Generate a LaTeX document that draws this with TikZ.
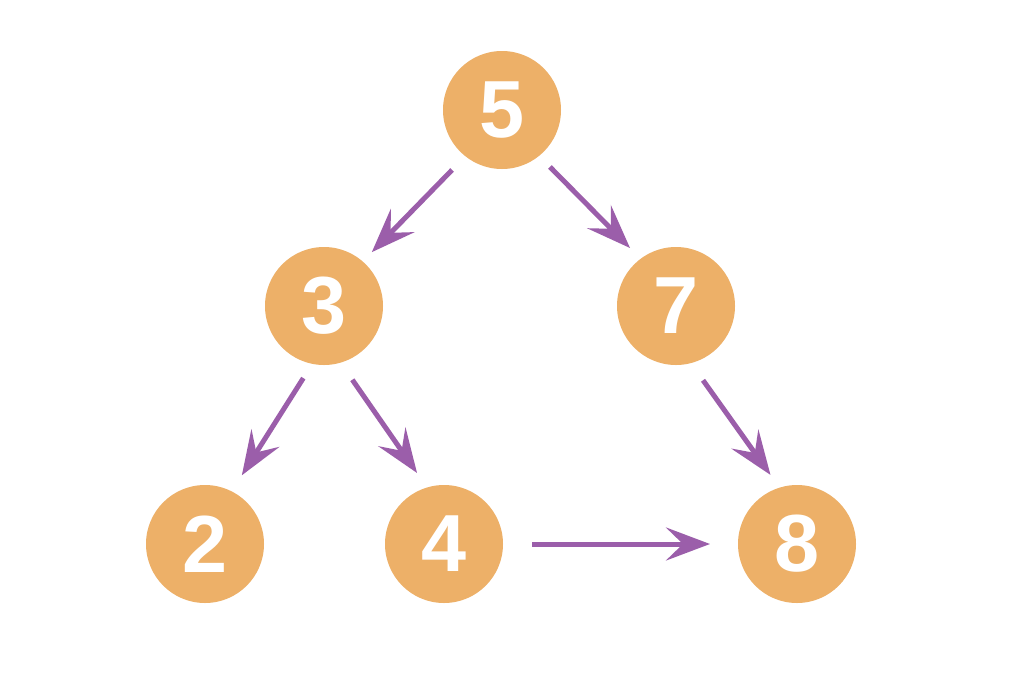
\documentclass[tikz,border=0pt]{standalone}
\usepackage{fontspec}
\setmainfont{Liberation Sans}
\usetikzlibrary{arrows.meta,calc}
\definecolor{nodeorange}{RGB}{237,176,104}
\definecolor{edgepurple}{RGB}{155,94,170}
\begin{document}
\begin{tikzpicture}[x=1pt,y=-1pt,
  num/.style={circle,fill=nodeorange,minimum size=118pt,inner sep=0pt,text=white,
    font=\fontsize{81}{81}\selectfont\bfseries},
  edge/.style={draw=edgepurple,line width=5pt,
    -{Stealth[length=44pt,width=33pt,inset=17pt]}}]
\useasboundingbox (0,0) rectangle (1034,694);
\fill[white] (0,0) rectangle (1034,694);
\node[num] (n5) at (502,110) {5};
\node[num] (n3) at (324,306) {3};
\node[num] (n7) at (676,306) {7};
\node[num] (n2) at (205,544) {2};
\node[num] (n4) at (444,544) {4};
\node[num] (n8) at (797,544) {8};
\draw[edge] ($(n5.center)+(-129.8:78pt)$) -- ($(n3.center)+(48.4:72pt)$);
\draw[edge] ($(n5.center)+(-49.9:74.5pt)$) -- ($(n7.center)+(128.4:74pt)$);
\draw[edge] ($(n3.center)+(-106:75pt)$) -- ($(n2.center)+(61.8:78pt)$);
\draw[edge] ($(n3.center)+(-69:79pt)$) -- ($(n4.center)+(110.8:76pt)$);
\draw[edge] ($(n7.center)+(-70:79pt)$) -- ($(n8.center)+(111:74pt)$);
\draw[edge] ($(n4.center)+(0:88pt)$) -- ($(n8.center)+(180:87pt)$);
\end{tikzpicture}
\end{document}
